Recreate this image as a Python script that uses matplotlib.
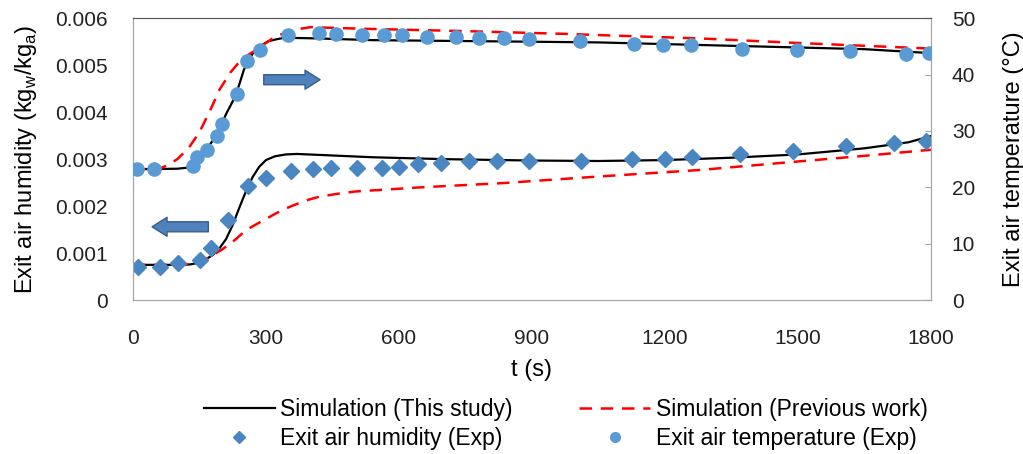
import matplotlib.pyplot as plt
from matplotlib.lines import Line2D
from matplotlib.patches import FancyArrowPatch

plt.rcParams['font.family'] = ['Liberation Sans', 'DejaVu Sans']

# simulation (this study) - humidity
t_hum_sim = [0, 100, 130, 150, 165, 180, 195, 210, 225, 240, 255, 270, 285, 300, 320, 345, 370,
             420, 540, 700, 900, 1050, 1200, 1350, 1500, 1650, 1750, 1800]
hum_sim = [0.00075, 0.00075, 0.00076, 0.00080, 0.00087, 0.00096, 0.00110, 0.00130, 0.00160, 0.00197,
           0.00232, 0.00262, 0.00284, 0.00298, 0.00306, 0.00310, 0.00311, 0.00309, 0.00304, 0.00300,
           0.00297, 0.00296, 0.00298, 0.00303, 0.00310, 0.00323, 0.00336, 0.00349]

# simulation (previous work) - humidity
t_hum_prev = [0, 100, 130, 160, 200, 230, 255, 285, 310, 335, 360, 390, 420, 460, 500, 550, 650,
              835, 1050, 1280, 1500, 1650, 1800]
hum_prev = [0.00075, 0.00075, 0.00077, 0.00085, 0.00107, 0.00128, 0.00149, 0.00165, 0.00178, 0.00191,
            0.00201, 0.00212, 0.00220, 0.00226, 0.00231, 0.00234, 0.00240, 0.00249, 0.00263, 0.00277,
            0.00295, 0.00307, 0.00320]

# simulation (this study) - temperature
t_temp_sim = [0, 100, 125, 140, 150, 160, 170, 180, 190, 200, 210, 220, 230, 240, 250, 260, 270, 280,
              290, 305, 320, 340, 360, 420, 540, 800, 1050, 1350, 1500, 1650, 1800]
temp_sim = [23.2, 23.3, 23.5, 24.2, 25.0, 26.0, 27.2, 28.3, 29.5, 31.2, 33.0, 34.5, 36.0, 38.3, 40.8,
            42.5, 43.7, 44.6, 45.2, 45.9, 46.2, 46.5, 46.5, 46.4, 46.1, 45.9, 45.7, 45.1, 44.8, 44.5, 43.8]

# simulation (previous work) - temperature
t_temp_prev = [0, 60, 80, 100, 125, 150, 175, 195, 220, 245, 280, 320, 360, 400, 530, 750, 980, 1050,
               1280, 1500, 1800]
temp_prev = [23.2, 23.3, 24.0, 25.0, 26.9, 29.8, 33.8, 37.3, 40.4, 42.7, 44.5, 46.7, 47.9, 48.4, 48.1,
             47.7, 47.2, 47.0, 46.4, 45.6, 44.6]

# experiments
t_hum_exp = [12, 62, 101, 151, 177, 215, 260, 299, 356, 407, 446, 505, 561, 600, 643, 694, 759, 822,
             893, 1010, 1125, 1200, 1260, 1369, 1488, 1608, 1717, 1789]
hum_exp = [0.00071, 0.00071, 0.00078, 0.00085, 0.00111, 0.00170, 0.00243, 0.00260, 0.00275, 0.00278,
           0.00282, 0.00282, 0.00281, 0.00284, 0.00289, 0.00292, 0.00296, 0.00296, 0.00296, 0.00296,
           0.00300, 0.00300, 0.00304, 0.00310, 0.00317, 0.00329, 0.00335, 0.00339]

t_temp_exp = [8, 47, 136, 144, 168, 189, 200, 234, 258, 286, 350, 420, 459, 516, 566, 606, 664, 728,
              780, 837, 894, 1008, 1130, 1195, 1258, 1373, 1497, 1617, 1744, 1796]
temp_exp = [23.2, 23.2, 23.7, 25.4, 26.6, 29.1, 31.3, 36.6, 42.4, 44.4, 47.0, 47.3, 47.2, 47.1, 47.0,
            47.0, 46.6, 46.6, 46.4, 46.4, 46.3, 45.9, 45.4, 45.3, 45.3, 44.6, 44.4, 44.1, 43.7, 43.8]

x_ticks = [0, 300, 600, 900, 1200, 1500, 1800]
hum_ticks = [0, 0.001, 0.002, 0.003, 0.004, 0.005, 0.006]
temp_ticks = [0, 10, 20, 30, 40, 50]

DIAMOND = '#4A86C1'
CIRCLE = '#5B9BD5'
SPINE = '#A6A6A6'

fig = plt.figure(figsize=(10.23, 4.54), dpi=100)
ax = fig.add_axes([0.130, 0.339, 0.780, 0.621])
ax2 = ax.twinx()

l_sim, = ax.plot(t_hum_sim, hum_sim, color='black', lw=1.6, zorder=2)
l_prev, = ax.plot(t_hum_prev, hum_prev, color='#FF0000', lw=1.8, ls=(0, (5, 3.5)), zorder=2)
d_exp, = ax.plot(t_hum_exp, hum_exp, ls='none', marker='D', ms=8, color=DIAMOND, zorder=3)

ax2.plot(t_temp_sim, temp_sim, color='black', lw=1.6, zorder=2)
ax2.plot(t_temp_prev, temp_prev, color='#FF0000', lw=1.8, ls=(0, (5, 3.5)), zorder=2)
c_exp, = ax2.plot(t_temp_exp, temp_exp, ls='none', marker='o', ms=9.5, color=CIRCLE, zorder=3)

ax.set_xlim(0, 1800)
ax.set_ylim(0, 0.006)
ax2.set_ylim(0, 50)
ax.set_xticks(x_ticks)
ax.set_yticks(hum_ticks)
ax.set_yticklabels(['0', '0.001', '0.002', '0.003', '0.004', '0.005', '0.006'])
ax2.set_yticks(temp_ticks)

ax.tick_params(axis='both', length=0, labelsize=15, colors='#222222')
ax.tick_params(axis='y', pad=18)
ax.tick_params(axis='x', pad=21)
ax2.tick_params(axis='y', direction='in', length=4, color=SPINE, labelsize=15,
                labelcolor='#222222', pad=15)

for a in (ax, ax2):
    for s in ('left', 'right', 'bottom'):
        a.spines[s].set_color(SPINE)
    a.spines['top'].set_color('#595959')

ax.set_xlabel('t (s)', fontsize=17, labelpad=8)
ax.set_ylabel('Exit air humidity (kg$_\\mathregular{w}$/kg$_\\mathregular{a}$)', fontsize=17, labelpad=12)
ax2.set_ylabel('Exit air temperature (°C)', fontsize=17, labelpad=20)

# direction arrows
arrow_style = 'simple,head_length=10.8,head_width=13.7,tail_width=7.2'
for tail, tip, yv in [(295, 422, 0.00469), (170, 43, 0.00156)]:
    ax.add_patch(FancyArrowPatch((tail, yv), (tip, yv), arrowstyle=arrow_style, mutation_scale=1,
                                 fc='#4F81BD', ec='#385D8A', lw=1, shrinkA=0, shrinkB=0, zorder=4))

handles = [l_sim, Line2D([], [], ls='none', marker='D', ms=6, color=DIAMOND),
           l_prev, Line2D([], [], ls='none', marker='o', ms=7, color=CIRCLE)]
labels = ['Simulation (This study)', 'Exit air humidity (Exp)',
          'Simulation (Previous work)', 'Exit air temperature (Exp)']
fig.legend(handles, labels, loc='upper center', bbox_to_anchor=(0.553, 0.168), ncol=2,
           frameon=False, fontsize=16.5, handlelength=3.1, handletextpad=0.25, columnspacing=2.9,
           labelspacing=0.25)

fig.savefig('out.png', dpi=100)
